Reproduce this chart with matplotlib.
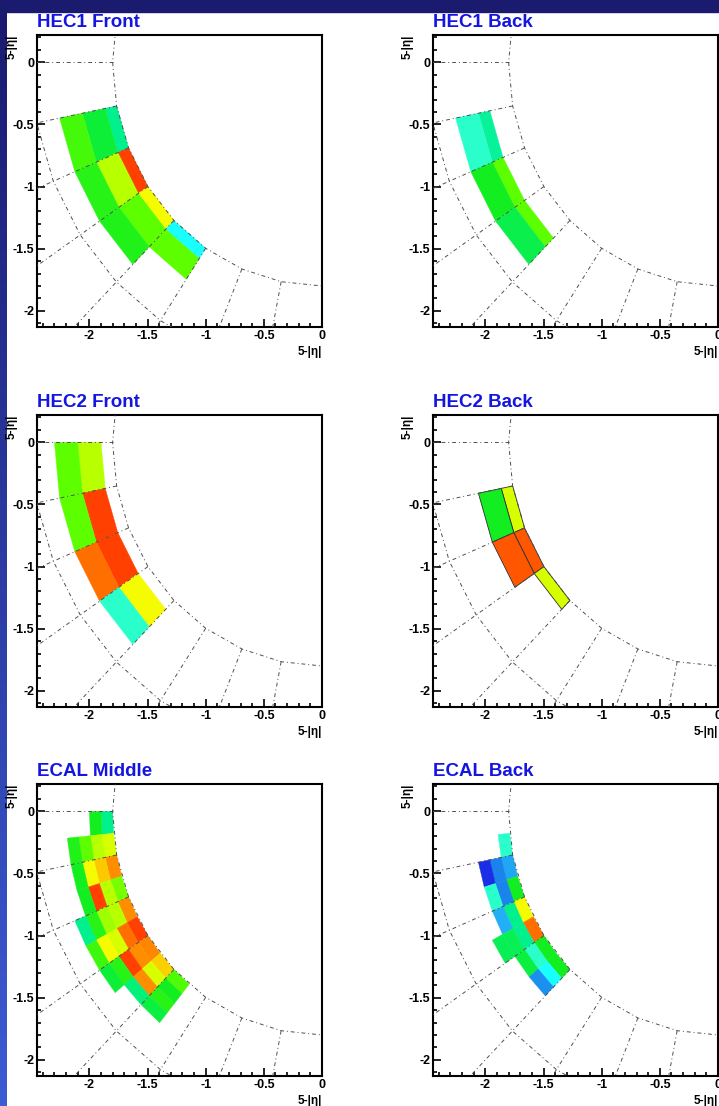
import numpy as np
import matplotlib.pyplot as plt
from matplotlib.collections import PolyCollection
from matplotlib.colors import LinearSegmentedColormap, Normalize
from matplotlib.patches import Rectangle
from matplotlib.ticker import MultipleLocator, FuncFormatter

plt.rcParams['font.family'] = ['Liberation Sans', 'DejaVu Sans']
plt.rcParams['axes.unicode_minus'] = False

nan = np.nan

# rainbow palette, energy scale 0..12
palette = ['#1a2ee6', '#1a84ec', '#22b0f5', '#18ffff', '#2affcc', '#00f08c',
           '#10ee20', '#5cff00', '#b8ff00', '#f6ff00', '#ffb000', '#ff7000', '#ff4000']

# each panel: radial bin edges (5-|eta|), phi bin edges (deg below -x axis), cell energies [phi][r]
hec1f_r = [1.8, 1.9, 2.1, 2.3]
hec1f_phi = [11.25, 22.5, 33.75, 45.0, 56.25]
hec1f_e = [[5.0, 5.8, 6.7],
           [12.0, 8.0, 6.3],
           [9.0, 7.0, 6.2],
           [3.0, 7.0, nan]]

hec1b_r = [2.0, 2.1, 2.3]
hec1b_phi = [11.25, 22.5, 33.75, 45.0]
hec1b_e = [[4.8, 4.0],
           [7.0, 6.0],
           [7.0, 5.6]]

hec2f_r = [1.9, 2.1, 2.3]
hec2f_phi = [0.0, 11.25, 22.5, 33.75, 45.0]
hec2f_e = [[8.0, 7.0],
           [12.0, 7.0],
           [12.0, 11.0],
           [9.0, 4.0]]

hec2b_r = [1.8, 1.9, 2.1]
hec2b_phi = [11.25, 22.5, 33.75, 45.0]
hec2b_e = [[8.5, 6.0],
           [11.5, 11.5],
           [8.5, nan]]

ecalm_r = [1.8, 1.9, 2.0, 2.1, 2.2, 2.3]
ecalm_phi = [0.0, 5.625, 11.25, 16.875, 22.5, 28.125, 33.75, 39.375, 45.0, 50.625]
ecalm_e = [[5.0, 6.0, nan, nan, nan],
           [8.5, 8.0, 7.0, 6.2, nan],
           [10.5, 9.7, 9.0, 6.0, nan],
           [7.3, 8.0, 12.0, 6.0, nan],
           [10.5, 8.0, 7.7, 6.3, 5.0],
           [12.0, 11.0, 8.5, 9.0, 6.6],
           [10.6, 10.5, 12.0, 6.3, 5.8],
           [9.6, 8.5, 10.5, 5.2, nan],
           [6.8, 6.0, 6.3, 5.7, nan]]

ecalb_r = [1.8, 1.9, 2.0, 2.1, 2.2]
ecalb_phi = [5.625, 11.25, 16.875, 22.5, 28.125, 33.75, 39.375, 45.0]
ecalb_e = [[4.0, nan, nan, nan],
           [1.8, 1.0, 0.0, nan],
           [6.0, 1.0, 4.0, nan],
           [9.0, 5.0, 2.0, nan],
           [11.0, 5.0, 5.5, 5.5],
           [6.0, 4.0, 5.7, nan],
           [6.0, 3.0, 1.3, nan]]

panels = [
    ("HEC1 Front", hec1f_r, hec1f_phi, hec1f_e, False),
    ("HEC1 Back", hec1b_r, hec1b_phi, hec1b_e, False),
    ("HEC2 Front", hec2f_r, hec2f_phi, hec2f_e, False),
    ("HEC2 Back", hec2b_r, hec2b_phi, hec2b_e, True),
    ("ECAL Middle", ecalm_r, ecalm_phi, ecalm_e, False),
    ("ECAL Back", ecalb_r, ecalb_phi, ecalb_e, False),
]

cmap = LinearSegmentedColormap.from_list("root_rainbow", palette)
norm = Normalize(0, 12)


def to_xy(r, a_deg):
    a = np.radians(a_deg)
    return -r * np.cos(a), -r * np.sin(a)


def cell_polys(r_edges, phi_edges, values):
    polys, vals = [], []
    for i in range(len(phi_edges) - 1):
        for j in range(len(r_edges) - 1):
            v = values[i][j]
            if np.isnan(v):
                continue
            a0, a1 = phi_edges[i], phi_edges[i + 1]
            r0, r1 = r_edges[j], r_edges[j + 1]
            polys.append([to_xy(r0, a0), to_xy(r1, a0), to_xy(r1, a1), to_xy(r0, a1)])
            vals.append(v)
    return polys, vals


def draw_grid(ax):
    style = dict(color='#505050', lw=0.7, ls=(0, (4, 3, 1, 3)), zorder=3)
    angs = np.arange(-22.5, 112.5 + 0.1, 11.25)
    for r in (1.8, 2.5):
        x, y = to_xy(r, angs)
        ax.plot(x, y, **style)
    for a in angs:
        x0, y0 = to_xy(1.8, a)
        x1, y1 = to_xy(4.0, a)
        ax.plot([x0, x1], [y0, y1], **style)


fig = plt.figure(figsize=(7.19, 11.06), dpi=100)
W, H = 719.0, 1106.0

# slide decoration
strip = fig.add_axes([0, 0, 7 / W, 1])
strip.imshow(np.linspace(0, 1, 256).reshape(-1, 1), aspect='auto',
             cmap=LinearSegmentedColormap.from_list("bg", ['#1a1a6e', '#3c5cd4']))
strip.axis('off')
fig.add_artist(Rectangle((0, 1 - 12 / H), 1, 12 / H, transform=fig.transFigure,
                         color='#1a1a6e', zorder=5))

lefts = [37, 433]
tops = [35, 415, 784]
pw, ph = 285, 292

fmt = FuncFormatter(lambda v, p: '%g' % (round(v, 2) + 0.0))

for k, (title, r_edges, phi_edges, vals, edged) in enumerate(panels):
    row, col = divmod(k, 2)
    ax = fig.add_axes([lefts[col] / W, 1 - (tops[row] + ph) / H, pw / W, ph / H])
    polys, v = cell_polys(r_edges, phi_edges, vals)
    pc = PolyCollection(polys, cmap=cmap, norm=norm, zorder=2)
    pc.set_array(np.array(v))
    if edged:
        pc.set_edgecolor('#303030')
        pc.set_linewidth(0.6)
    else:
        pc.set_edgecolor('face')
        pc.set_linewidth(0.3)
    ax.add_collection(pc)
    draw_grid(ax)

    ax.set_xlim(-2.45, 0)
    ax.set_ylim(-2.13, 0.22)
    ax.xaxis.set_major_locator(MultipleLocator(0.5))
    ax.xaxis.set_minor_locator(MultipleLocator(0.1))
    ax.yaxis.set_major_locator(MultipleLocator(0.5))
    ax.yaxis.set_minor_locator(MultipleLocator(0.1))
    ax.xaxis.set_major_formatter(fmt)
    ax.yaxis.set_major_formatter(fmt)
    ax.tick_params(which='both', direction='in', top=False, right=False, width=1.2)
    ax.tick_params(which='major', length=6, labelsize=9, pad=2)
    ax.tick_params(which='minor', length=2.8)
    for lab in ax.get_xticklabels() + ax.get_yticklabels():
        lab.set_fontweight('bold')
    for sp in ax.spines.values():
        sp.set_linewidth(1.5)

    ax.annotate(title, xy=(0, 1), xycoords='axes fraction', xytext=(0, 6),
                textcoords='offset points', ha='left', va='baseline',
                fontsize=13.5, fontweight='bold', color='#1515e0')
    ax.text(1.0, -25 / ph, '5-|η|', transform=ax.transAxes, ha='right', va='center',
            fontsize=8.5, fontweight='bold')
    ax.text(-25 / pw, 1.0, '5-|η|', transform=ax.transAxes, ha='center', va='top',
            rotation=90, fontsize=8.5, fontweight='bold')

fig.savefig('out.png', dpi=100)
